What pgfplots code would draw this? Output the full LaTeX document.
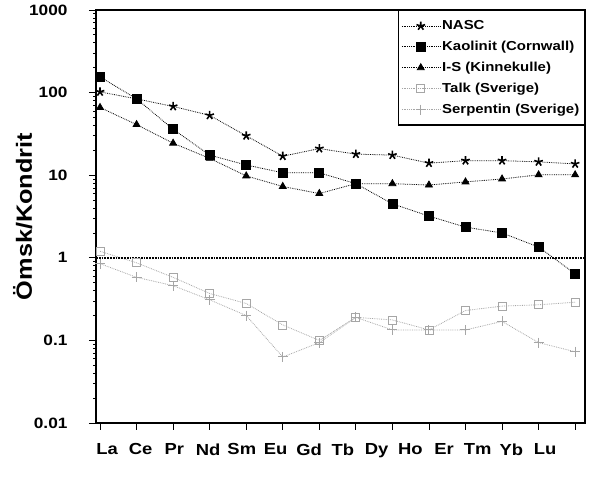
\documentclass[border=0pt]{standalone}
\usepackage{fontspec}
\setmainfont{Liberation Sans}[FakeStretch=1.15]
\usepackage{pgfplots}
\pgfplotsset{compat=1.18}

% REE / chondrite
\pgfplotstableread{
x   nasc  kaol  is    talk   serp
1   102   155   66    1.2    0.85
2   84    84    41    0.87   0.58
3   68    36    24.4  0.58   0.46
4   53    17.5  16    0.37   0.31
5   30    13.3  9.8   0.28   0.20
6   17    10.7  7.3   0.154  0.063
7   21    10.7  6.0   0.10   0.094
8   18    7.9   7.9   0.19   0.19
9   17.5  4.5   7.9   0.177  0.134
10  14    3.2   7.6   0.134  0.134
11  15    2.35  8.3   0.23   0.134
12  15    2.0   9.0   0.26   0.17
13  14.5  1.35  10.1  0.27   0.094
14  13.7  0.64  10.1  0.29   0.073
}\ree

\begin{document}
\begin{tikzpicture}
\begin{axis}[
  scale only axis,
  width=489pt, height=413pt,
  ymode=log,
  xmin=0.89, xmax=14.27,
  ymin=0.01, ymax=1000,
  axis line style={line width=1.5pt},
  xtick={1,...,14},
  xticklabels={La,Ce,Pr,Nd,Sm,Eu,Gd,Tb,Dy,Ho,Er,Tm,Yb,Lu},
  ytick={0.01,0.1,1,10,100,1000},
  yticklabels={0.01,0.1,1,10,100,1000},
  minor ytick={},
  tick align=outside,
  tick pos=left,
  major tick length=7pt,
  tick style={black, line width=0.8pt},
  xticklabel style={font=\fontsize{16}{18}\selectfont\bfseries,
    yshift=-10pt, xshift={7pt-2.85pt*\ticknum}},
  yticklabel style={font=\fontsize{15}{17}\selectfont\bfseries, xshift=-18pt},
  ylabel={Ömsk/Kondrit},
  ylabel style={font=\fontsize{22}{24}\selectfont\bfseries, yshift=-10pt},
  legend style={
    at={(1,1)}, anchor=north east,
    draw=black, line width=1.5pt,
    font=\fontsize{13}{15}\selectfont\bfseries,
    cells={anchor=west},
    row sep=6pt, inner xsep=3pt, inner ysep=8pt,
  },
  legend image code/.code={%
    \draw[mark repeat=2, mark phase=2] plot coordinates {(0pt,0pt) (19pt,0pt) (38pt,0pt)};},
  every axis plot/.append style={line width=0.8pt, densely dotted},
]
\addplot[black, mark=star, mark size=4.5pt, mark options={solid, line width=1.6pt}]
  table[x=x, y=nasc] {\ree};
\addplot[black, mark=square*, mark size=4.5pt, mark options={solid}]
  table[x=x, y=kaol] {\ree};
\addplot[black, mark=triangle*, mark size=4pt, mark options={solid}]
  table[x=x, y=is] {\ree};
\addplot[gray!70, mark=square, mark size=4pt, mark options={solid, line width=0.8pt}]
  table[x=x, y=talk] {\ree};
\addplot[gray!70, mark=+, mark size=5pt, mark options={solid, line width=1pt}]
  table[x=x, y=serp] {\ree};
\legend{NASC, Kaolinit (Cornwall), I-S (Kinnekulle), Talk (Sverige), Serpentin (Sverige)}
% reference line at 1
\addplot[black, line width=1.8pt, densely dotted, forget plot] coordinates {(0.89,1) (14.27,1)};
\end{axis}
\pgfresetboundingbox
\path ([xshift=-96pt,yshift=-54pt]current axis.south west)
  rectangle ([xshift=13pt,yshift=10pt]current axis.north east);
\end{tikzpicture}
\end{document}
